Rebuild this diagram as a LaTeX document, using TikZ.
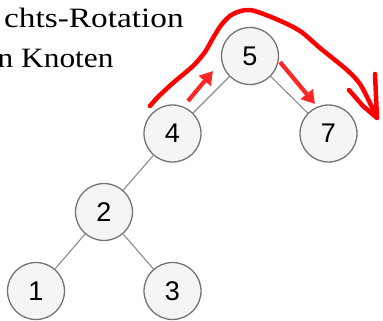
\documentclass[tikz,border=0pt]{standalone}
\usepackage{fontspec}
\setmainfont{Liberation Serif}
\newfontfamily\numfont{Liberation Sans}
\newfontfamily\wideA[FakeStretch=1.19]{Liberation Serif}
\newfontfamily\wideB[FakeStretch=1.12]{Liberation Serif}
\usetikzlibrary{arrows.meta}
\begin{document}
\begin{tikzpicture}[x=1pt,y=-1pt,
  knot/.style={circle,draw=black!55,line width=1.3pt,fill=black!4,minimum size=57pt,inner sep=0pt,
    font=\numfont\fontsize{27}{27}\selectfont},
  treeedge/.style={draw=black!45,line width=1.1pt},
  redpen/.style={draw=red,line width=4.5pt,line cap=round,line join=round},
  redarrow/.style={draw=red!85,line width=4.2pt,-{Triangle[width=15pt,length=13pt]}},
  caption/.style={anchor=base west,inner sep=0pt}]
\useasboundingbox (0,0) rectangle (383,321);
% caption text
\node[caption,font=\wideA\fontsize{28}{28}\selectfont] (t1) at (4,28) {chts-Rotation};
\node[caption,font=\wideB\fontsize{28}{28}\selectfont] (t2) at (-2.5,67) {n Knoten};
% tree
\node[knot] (n5) at (250,56) {5};
\node[knot] (n4) at (172.5,133.5) {4};
\node[knot] (n7) at (328.5,133.5) {7};
\node[knot] (n2) at (104,212) {2};
\node[knot] (n1) at (36,291) {1};
\node[knot] (n3) at (172.5,291) {3};
\draw[treeedge] (n5) -- (n4);
\draw[treeedge] (n5) -- (n7);
\draw[treeedge] (n4) -- (n2);
\draw[treeedge] (n2) -- (n1);
\draw[treeedge] (n2) -- (n3);
% red annotations
\coordinate (a1) at (188,101);
\coordinate (a2) at (213,71);
\coordinate (b1) at (280,62);
\coordinate (b2) at (315,104);
\draw[redarrow] (a1) -- (a2);
\draw[redarrow] (b1) -- (b2);
\coordinate (tip) at (377,118);
\draw[redpen] plot[smooth] coordinates {(150,106) (158,97) (173,83) (193,66) (205,52) (213,38) (222,24) (233,14) (250,10) (276,19) (300,31) (320,48) (347,70) (360,84) (369,101) (377,118)};
\draw[redpen] (349,90) -- (363,106) -- (tip) -- (375,74);
\end{tikzpicture}
\end{document}
